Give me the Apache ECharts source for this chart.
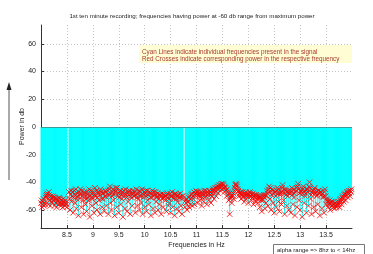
<!DOCTYPE html>
<html><head><meta charset="utf-8">
<script src="https://cdn.jsdelivr.net/npm/echarts@6/dist/echarts.min.js"></script>
<style>html,body{margin:0;padding:0;background:#fff}#c{width:373px;height:254px}</style>
</head><body><div id="c"></div>
<script>
// Frequency grid (Hz): 8.00 .. 13.99, step 0.01
const freqStart = 8.0, freqStep = 0.01;
// Power (db), by 0.6 Hz segments (60 bins each)
const power_8_0  = [-55,-53,-58,-56,-54,-52,-57,-55,-56,-51,-50,-49,-48,-52,-56,-47,-49,-53,-57,-50,-52,-54,-55,-50,-51,-53,-57,-51,-52,-55,-58,-52,-53,-54,-56,-51,-52,-55,-57,-53,-55,-56,-58,-52,-54,-55,-57,-53,-55,-56,-58,null,null,null,-47,-52,-60,-49,-46,-54];
const power_8_6  = [-50,-47,-62,-51,-46,-49,-55,-45,-59,-52,-48,-50,-64,-47,-52,-49,-45,-48,-58,-46,-50,-53,-63,-48,-47,-50,-56,-52,-61,-47,-49,-51,-53,-45,-65,-50,-46,-48,-57,-52,-51,-47,-62,-49,-44,-50,-55,-46,-60,-51,-48,-47,-53,-49,-63,-45,-47,-52,-58,-48];
const power_9_2  = [-52,-48,-61,-50,-46,-47,-57,-51,-49,-46,-63,-49,-45,-43,-55,-48,-60,-50,-47,-45,-53,-49,-64,-47,-44,-46,-58,-44,-50,-48,-62,-51,-47,-46,-56,-49,-52,-47,-65,-50,-46,-48,-59,-45,-49,-51,-61,-47,-54,-49,-47,-46,-63,-50,-51,-48,-57,-46,-48,-50];
const power_9_8  = [-50,-47,-62,-49,-45,-51,-57,-48,-52,-46,-60,-50,-47,-49,-55,-45,-63,-51,-49,-47,-58,-48,-46,-50,-61,-46,-53,-49,-56,-47,-48,-51,-64,-48,-51,-46,-59,-50,-47,-49,-62,-47,-54,-51,-50,-48,-60,-52,-56,-49,-49,-50,-63,-48,-52,-51,-58,-49,-51,-50];
const power_10_4 = [-53,-50,-61,-49,-48,-51,-57,-52,-55,-48,-62,-50,-50,-47,-58,-51,-52,-49,-64,-48,-49,-52,-59,-50,-54,-49,-61,-51,-51,-48,-57,-50,-63,-52,-50,null,null,null,-58,-53,-55,-52,-60,-54,-54,-51,-58,-50,-56,-52,-49,-48,-57,-50,-52,-47,-56,-49,-48,-46];
const power_11_0 = [-49,-47,-55,-49,-47,-50,-53,-48,-50,-47,-57,-51,-48,-49,-54,-46,-51,-48,-46,-50,-56,-47,-49,-48,-53,-46,-47,-49,-55,-48,-50,-46,-45,-47,-52,-45,-44,-47,-50,-44,-43,-45,-48,-43,-42,-44,-46,-42,-41,-43,-45,-41,-42,-44,-47,-43,-44,-46,-50,-45];
const power_11_6 = [-47,-49,-53,-48,-63,-52,-51,-50,-55,-49,-50,-48,-52,-46,-44,-42,-41,-42,-43,-45,-47,-46,-50,-48,-48,-47,-52,-49,-49,-47,-51,-50,-54,-49,-48,-47,-52,-50,-49,-48,-55,-49,-50,-47,-48,-50,-53,-49,-51,-48,-56,-50,-49,-51,-54,-49,-50,-52,-55,-50];
const power_12_2 = [-52,-50,-58,-51,-50,-53,-61,-52,-53,-50,-49,-51,-59,-49,-55,-50,-46,-48,-57,-45,-43,-47,-52,-44,-60,-49,-45,-46,-55,-48,-62,-47,-47,-50,-58,-46,-44,-48,-54,-45,-61,-49,-48,-47,-56,-44,-42,-46,-53,-48,-63,-45,-46,-49,-57,-47,-50,-46,-60,-48];
const power_12_8 = [-48,-46,-62,-47,-44,-49,-56,-45,-51,-48,-64,-47,-46,-44,-58,-43,-41,-45,-53,-48,-60,-46,-47,-49,-65,-45,-43,-47,-55,-46,-50,-48,-62,-45,-45,-47,-57,-43,-40,-44,-52,-49,-63,-47,-48,-46,-58,-45,-44,-48,-61,-47,-50,-49,-56,-46,-46,-48,-64,-47];
const power_13_4 = [-47,-49,-59,-48,-51,-50,-62,-47,-45,-50,-56,-52,-53,-54,-58,-56,-55,-53,-60,-55,-54,-57,-57,-54,-56,-58,-59,-55,-55,-57,-58,-56,-57,-55,-54,-56,-58,-53,-52,-54,-56,-51,-50,-52,-54,-49,-48,-50,-53,-49,-47,-48,-51,-47,-46,-48,-50,-46,-47,-45];
const power = [].concat(power_8_0, power_8_6, power_9_2, power_9_8, power_10_4,
                        power_11_0, power_11_6, power_12_2, power_12_8, power_13_4);
const yTicks = [-60,-40,-20,0,20,40,60];
const xTicks = [8.5,9,9.5,10,10.5,11,11.5,12,12.5,13,13.5];

const pts = power.map((p, i) => [+(freqStart + i*freqStep).toFixed(2), p]);
const stems = pts.filter(d => d[1] !== null);

const FONT = 'Liberation Sans';
const chart = echarts.init(document.getElementById('c'), null, {renderer:'canvas'});
chart.setOption({
  animation:false,
  title:{text:'1st ten minute recording; frequencies having power at -60 db range from maximum power',
    left:187, top:8, textAlign:'center',
    textStyle:{fontFamily:FONT,fontSize:6.2,fontWeight:'normal',color:'#222'}},
  grid:{left:41,right:21,top:25,bottom:24},
  xAxis:{type:'value',min:8,max:14,
    name:'Frequencies in Hz',nameLocation:'middle',nameGap:14,nameMoveOverlap:false,
    nameTextStyle:{fontFamily:FONT,fontSize:7,color:'#222'},
    axisLine:{onZero:false,lineStyle:{color:'#333',width:1}},
    axisTick:{inside:true,length:3,customValues:xTicks,lineStyle:{color:'#333'}},
    axisLabel:{customValues:xTicks,fontFamily:FONT,fontSize:7,color:'#222',margin:4},
    splitLine:{show:true,lineStyle:{color:'#c4c4c4',type:[1,2],width:1}}},
  yAxis:{type:'value',min:-73,max:73.6,
    name:'Power in db',nameLocation:'middle',nameGap:15,nameMoveOverlap:false,
    nameTextStyle:{fontFamily:FONT,fontSize:7,color:'#222'},
    axisLine:{show:true,lineStyle:{color:'#333',width:1}},
    axisTick:{show:true,inside:true,length:3,customValues:yTicks,lineStyle:{color:'#333'}},
    axisLabel:{customValues:yTicks,fontFamily:FONT,fontSize:7,color:'#222',margin:5},
    splitLine:{show:true,lineStyle:{color:'#c4c4c4',type:[1,2],width:1}}},
  series:[
    {type:'bar',data:stems,barWidth:0.8,itemStyle:{color:'#00ffff'},silent:true,
      markLine:{silent:true,symbol:'none',label:{show:false},
        lineStyle:{color:'#3a9a9a',width:1,type:'solid'},data:[{yAxis:0}]}},
    {type:'scatter',data:stems,symbol:'path://M0,0L10,10M10,0L0,10',symbolSize:5.5,
      itemStyle:{color:'rgba(0,0,0,0)',borderColor:'#ff0000',borderWidth:1.0},silent:true}
  ],
  graphic:[
    {type:'rect',shape:{x:139,y:45,width:213,height:18},style:{fill:'#fefdd4'},z:100},
    {type:'text',x:142,y:48.5,style:{text:'Cyan Lines indicate individual frequencies present in the signal\nRed Crosses indicate corresponding power in the respective frequency',
      fill:'#a83a2e',font:'6.3px '+FONT,lineHeight:7.5},z:101},
    {type:'line',shape:{x1:9,y1:180,x2:9,y2:88},style:{stroke:'#555',lineWidth:1}},
    {type:'polygon',shape:{points:[[9,82],[6.5,90],[11.5,90]]},style:{fill:'#222'}},
    {type:'rect',shape:{x:273.5,y:244.5,width:91,height:14},style:{fill:'#fff',stroke:'#777',lineWidth:1},z:100},
    {type:'text',x:277,y:247,style:{text:'alpha range => 8hz to < 14hz',fill:'#222',font:'6px '+FONT},z:101}
  ]
});
</script></body></html>
